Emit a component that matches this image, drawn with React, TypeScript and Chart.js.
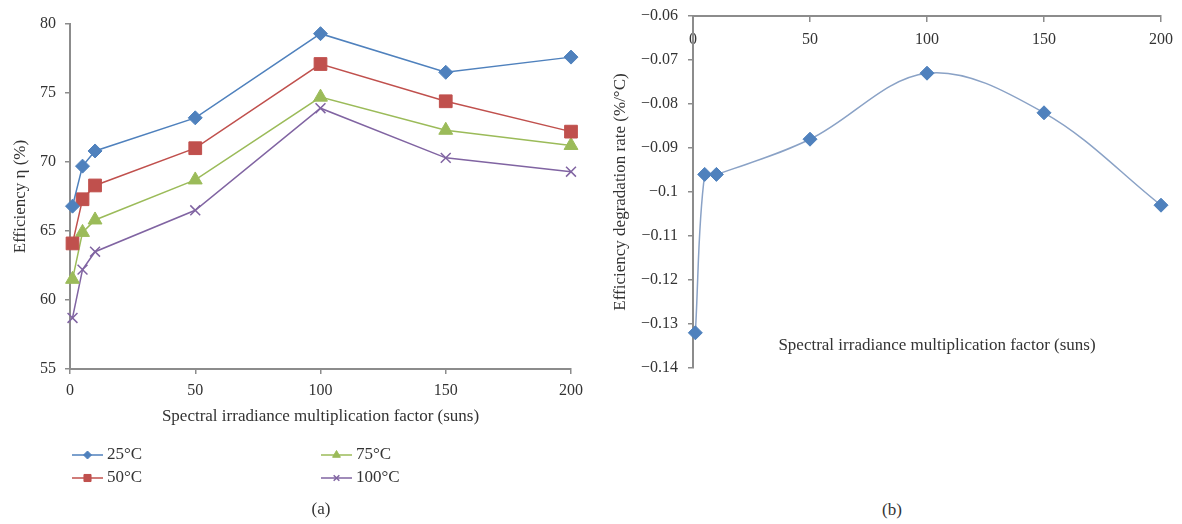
import React, { useEffect, useRef } from 'react';
import { Chart, registerables } from 'chart.js';
import { drawPoint } from 'chart.js/helpers';

Chart.register(...registerables);

// ---------- data ----------
const sunsFactor = [1, 5, 10, 50, 100, 150, 200];
const seriesLabels = ['25°C', '50°C', '75°C', '100°C'];
const eff25 = [66.8, 69.7, 70.8, 73.2, 79.3, 76.5, 77.6];
const eff50 = [64.1, 67.3, 68.3, 71.0, 77.1, 74.4, 72.2];
const eff75 = [61.5, 64.9, 65.8, 68.7, 74.7, 72.3, 71.2];
const eff100 = [58.7, 62.2, 63.5, 66.5, 73.9, 70.3, 69.3];
const degradationRate = [-0.132, -0.096, -0.096, -0.088, -0.073, -0.082, -0.103];

const xTitle = 'Spectral irradiance multiplication factor (suns)';
const yTitleA = 'Efficiency η (%)';
const yTitleB = 'Efficiency degradation rate (%/°C)';

// ---------- styles ----------
const FONT = "'Liberation Serif', 'Times New Roman', serif";
const TEXT = '#333333';
const AXIS = '#8c8c8c';
const COLORS = ['#4F81BD', '#C0504D', '#9BBB59', '#8064A2'];
const STYLES = ['rectRot', 'rect', 'triangle', 'crossRot'];
const RADII = [7, 9, 8, 7];
const LEGEND_RADII = [4, 5, 4.5, 4];
const LEGEND_SLOTS = [
  { x: 72, y: 455 },
  { x: 72, y: 478 },
  { x: 321, y: 455 },
  { x: 321, y: 478 },
];

const toPoints = (ys: number[]) => sunsFactor.map((x, i) => ({ x, y: ys[i] }));

const legendPlugin = {
  id: 'excelLegend',
  afterDraw(chart: any) {
    const ctx = chart.ctx;
    chart.data.datasets.forEach((ds: any, i: number) => {
      const s = LEGEND_SLOTS[i];
      ctx.save();
      ctx.strokeStyle = ds.borderColor;
      ctx.lineWidth = 1.5;
      ctx.beginPath();
      ctx.moveTo(s.x, s.y);
      ctx.lineTo(s.x + 31, s.y);
      ctx.stroke();
      ctx.fillStyle = ds.pointBackgroundColor;
      ctx.strokeStyle = ds.pointBorderColor;
      ctx.lineWidth = ds.pointBorderWidth;
      drawPoint(
        ctx,
        { pointStyle: ds.pointStyle, radius: LEGEND_RADII[i], borderWidth: ds.pointBorderWidth, rotation: 0 } as any,
        s.x + 15.5,
        s.y
      );
      ctx.fillStyle = TEXT;
      ctx.font = `17px ${FONT}`;
      ctx.textBaseline = 'middle';
      ctx.textAlign = 'left';
      ctx.fillText(ds.label, s.x + 35, s.y);
      ctx.restore();
    });
  },
};

const tickFont = { family: FONT, size: 16 };
const titleFont = { family: FONT, size: 17 };

export default function App() {
  const refA = useRef<HTMLCanvasElement>(null);
  const refB = useRef<HTMLCanvasElement>(null);

  useEffect(() => {
    const seriesData = [eff25, eff50, eff75, eff100];
    const chartA = new Chart(refA.current!, {
      type: 'line',
      data: {
        datasets: seriesData.map((ys, i) => ({
          label: seriesLabels[i],
          data: toPoints(ys),
          borderColor: COLORS[i],
          borderWidth: 1.5,
          pointStyle: STYLES[i] as any,
          pointRadius: RADII[i],
          pointBackgroundColor: COLORS[i],
          pointBorderColor: COLORS[i],
          pointBorderWidth: i === 3 ? 1.5 : 1,
          tension: 0,
          clip: false as any,
        })),
      },
      options: {
        animation: false,
        responsive: false,
        layout: { padding: { left: 0, top: 24, right: 18, bottom: 71 } },
        plugins: { legend: { display: false }, tooltip: { enabled: false } },
        scales: {
          x: {
            type: 'linear',
            min: 0,
            max: 200,
            ticks: { stepSize: 50, color: TEXT, font: tickFont, padding: 7 },
            grid: { drawOnChartArea: false, color: AXIS, tickLength: 5, lineWidth: 1.5 },
            border: { color: AXIS, width: 2 },
            title: { display: true, text: xTitle, color: TEXT, font: titleFont, padding: { top: 0, bottom: 2 } },
            afterFit(s: any) { s.height = 60; },
          },
          y: {
            min: 55,
            max: 80,
            ticks: { stepSize: 5, color: TEXT, font: tickFont, padding: 9 },
            grid: { drawOnChartArea: false, color: AXIS, tickLength: 5, lineWidth: 1.5 },
            border: { color: AXIS, width: 2 },
            title: { display: true, text: yTitleA, color: TEXT, font: titleFont, padding: { top: 10, bottom: 0 } },
            afterFit(s: any) { s.width = 70; },
          },
        },
      },
      plugins: [legendPlugin],
    });

    const chartB = new Chart(refB.current!, {
      type: 'line',
      data: {
        datasets: [
          {
            label: 'rate',
            data: toPoints(degradationRate),
            borderColor: '#8aa2c6',
            borderWidth: 1.5,
            pointStyle: 'rectRot',
            pointRadius: 7,
            pointBackgroundColor: '#4F81BD',
            pointBorderColor: '#4F81BD',
            pointBorderWidth: 1,
            tension: 0.35,
            clip: false as any,
          },
        ],
      },
      options: {
        animation: false,
        responsive: false,
        layout: { padding: { left: 0, top: 16, right: 21, bottom: 72 } },
        plugins: { legend: { display: false }, tooltip: { enabled: false } },
        scales: {
          x: {
            type: 'linear',
            position: { y: -0.06 } as any,
            min: 0,
            max: 200,
            ticks: { stepSize: 50, color: TEXT, font: tickFont, padding: 9 },
            grid: { drawOnChartArea: false, color: AXIS, tickLength: 5, lineWidth: 1.5 },
            border: { color: AXIS, width: 2 },
            afterFit(s: any) { s.paddingTop = 0; s.paddingBottom = 0; },
          },
          y: {
            min: -0.14,
            max: -0.06,
            ticks: {
              stepSize: 0.01,
              color: TEXT,
              font: tickFont,
              padding: 10,
              callback: (v: any) => Number(Number(v).toFixed(2)).toString().replace('-', '\u2212'),
            },
            grid: { drawOnChartArea: false, color: AXIS, tickLength: 5, lineWidth: 1.5 },
            border: { color: AXIS, width: 2 },
            title: { display: true, text: yTitleB, color: TEXT, font: titleFont, padding: { top: 20, bottom: 0 } },
            afterFit(s: any) { s.width = 103; s.paddingTop = 0; s.paddingBottom = 0; },
          },
        },
      },
    });

    return () => {
      chartA.destroy();
      chartB.destroy();
    };
  }, []);

  const label = (x: number, y: number): React.CSSProperties => ({
    position: 'absolute',
    left: x,
    top: y,
    transform: 'translate(-50%, -50%)',
    fontFamily: FONT,
    fontSize: 17,
    color: TEXT,
    whiteSpace: 'nowrap',
  });

  return (
    <div style={{ position: 'absolute', left: 0, top: 0, width: 1182, height: 524, background: '#fff', overflow: 'hidden' }}>
      <canvas ref={refA} width={590} height={500} style={{ position: 'absolute', left: 0, top: 0 }} />
      <canvas ref={refB} width={592} height={440} style={{ position: 'absolute', left: 590, top: 0 }} />
      <div style={label(937, 345)}>{xTitle}</div>
      <div style={label(321, 509)}>(a)</div>
      <div style={label(892, 510)}>(b)</div>
    </div>
  );
}
